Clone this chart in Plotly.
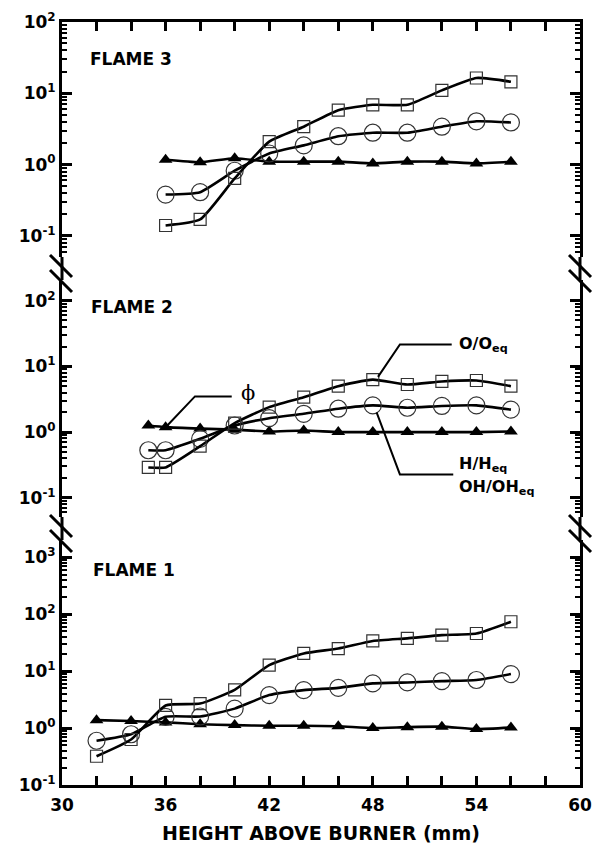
import plotly.graph_objects as go

# ---------------- data ----------------
x_flame3 = [36, 38, 40, 42, 44, 46, 48, 50, 52, 54, 56]
phi_flame3 = [1.17, 1.08, 1.23, 1.10, 1.10, 1.10, 1.04, 1.10, 1.10, 1.04, 1.10]
o_flame3 = [0.14, 0.17, 0.64, 2.1, 3.4, 5.8, 6.9, 6.9, 11.0, 16.4, 14.5]
h_flame3 = [0.38, 0.41, 0.82, 1.43, 1.86, 2.5, 2.8, 2.8, 3.4, 4.05, 3.9]

x_flame2 = [35, 36, 38, 40, 42, 44, 46, 48, 50, 52, 54, 56]
phi_flame2 = [1.26, 1.19, 1.13, 1.09, 1.02, 1.06, 1.0, 1.0, 1.0, 1.0, 1.0, 1.02]
o_flame2 = [0.29, 0.29, 0.61, 1.37, 2.4, 3.4, 5.0, 6.3, 5.3, 5.9, 6.1, 5.0]
h_flame2 = [0.53, 0.53, 0.79, 1.26, 1.63, 1.9, 2.27, 2.55, 2.35, 2.5, 2.55, 2.2]

x_flame1 = [32, 34, 36, 38, 40, 42, 44, 46, 48, 50, 52, 54, 56]
phi_flame1 = [1.38, 1.33, 1.26, 1.17, 1.13, 1.10, 1.10, 1.08, 1.0, 1.04, 1.06, 0.96, 1.02]
o_flame1 = [0.32, 0.63, 2.5, 2.7, 4.7, 12.8, 20.5, 25.0, 34.0, 37.8, 43.0, 46.0, 74.0]
h_flame1 = [0.60, 0.78, 1.58, 1.60, 2.2, 3.8, 4.65, 5.1, 6.1, 6.35, 6.7, 7.0, 8.9]

x_tick_labels = ["30", "36", "42", "48", "54", "60"]
x_tick_values = [30, 36, 42, 48, 54, 60]
y_tick_values = [0.1, 1, 10, 100, 1000]
y_tick_labels = ["10<sup>-1</sup>", "10<sup>0</sup>", "10<sup>1</sup>", "10<sup>2</sup>", "10<sup>3</sup>"]

# ---------------- layout geometry ----------------
W, H = 594, 844
ML, MR, MT, MB = 62, 14, 22, 59
PW, PH = W - ML - MR, H - MT - MB
FONT = "DejaVu Sans"


def px(xp):
    return (xp - ML) / PW


def py(yp):
    return (H - MB - yp) / PH


dom1 = [0.0, py(540)]
dom2 = [py(517), py(280)]
dom3 = [py(257), 1.0]
rng1 = [-1, 3.306]
rng2 = [-1.292, 2.315]
rng3 = [-1.296, 2.0]

fig = go.Figure()

LINE = dict(color="black", width=2.6, shape="spline", smoothing=0.5)
MCOL = "#333333"


def add_flame(x, phi, o, h, xa, ya):
    fig.add_trace(go.Scatter(x=x, y=phi, mode="lines+markers", xaxis=xa, yaxis=ya,
                             line=LINE,
                             marker=dict(symbol="triangle-up", size=12, color="black",
                                         line=dict(width=0))))
    fig.add_trace(go.Scatter(x=x, y=h, mode="lines+markers", xaxis=xa, yaxis=ya,
                             line=LINE,
                             marker=dict(symbol="circle-open", size=17, color=MCOL,
                                         line=dict(width=1.2, color=MCOL))))
    fig.add_trace(go.Scatter(x=x, y=o, mode="lines+markers", xaxis=xa, yaxis=ya,
                             line=LINE,
                             marker=dict(symbol="square-open", size=12, color=MCOL,
                                         line=dict(width=1.2, color=MCOL))))


add_flame(x_flame1, phi_flame1, o_flame1, h_flame1, "x", "y")
add_flame(x_flame2, phi_flame2, o_flame2, h_flame2, "x2", "y2")
add_flame(x_flame3, phi_flame3, o_flame3, h_flame3, "x3", "y3")

# empty traces so the minor-tick overlay axes are registered
for xa, ya in (("x", "y4"), ("x2", "y5"), ("x3", "y6")):
    fig.add_trace(go.Scatter(x=[], y=[], xaxis=xa, yaxis=ya, mode="markers",
                             hoverinfo="skip", showlegend=False))

minor_log = [k * 10 ** d for d in range(-2, 4) for k in range(2, 10)]
tickfont = dict(family=FONT, size=17, color="black", weight="bold")


def yax(dom, rng, anchor):
    return dict(domain=dom, type="log", range=rng, anchor=anchor, automargin=False,
                tickvals=y_tick_values, ticktext=y_tick_labels,
                ticks="inside", ticklen=10, tickwidth=3, tickcolor="black",
                showline=True, linewidth=3, linecolor="black", mirror="ticks",
                showgrid=False, zeroline=False, tickfont=tickfont)


def yminor(dom, rng, anchor, over):
    return dict(domain=dom, type="log", range=rng, anchor=anchor, overlaying=over,
                automargin=False,
                tickvals=minor_log, ticktext=[""] * len(minor_log),
                ticks="inside", ticklen=5, tickwidth=2, tickcolor="black",
                showline=True, linewidth=3, linecolor="black", mirror="ticks",
                showgrid=False, zeroline=False, showticklabels=False)


xminor = list(range(30, 61, 2))

fig.update_layout(
    width=W, height=H,
    margin=dict(l=ML, r=MR, t=MT, b=MB, autoexpand=False),
    plot_bgcolor="white", paper_bgcolor="white",
    showlegend=False,
    xaxis=dict(domain=[0, 1], range=[30, 60], anchor="y", automargin=False,
               tickvals=x_tick_values, ticktext=x_tick_labels,
               ticks="inside", ticklen=9, tickwidth=3, tickcolor="black",
               showline=True, linewidth=3, linecolor="black",
               showgrid=False, zeroline=False, tickfont=tickfont,
               ticklabelstandoff=3,
               minor=dict(tickvals=xminor, ticks="inside", ticklen=9, tickwidth=3,
                          tickcolor="black", showgrid=False),
               title=dict(text="HEIGHT ABOVE BURNER (mm)", standoff=13,
                          font=dict(family=FONT, size=19, color="black", weight="bold"))),
    xaxis2=dict(domain=[0, 1], range=[30, 60], anchor="y2", matches="x", automargin=False,
                showline=False, ticks="", showticklabels=False,
                showgrid=False, zeroline=False),
    xaxis3=dict(domain=[0, 1], range=[30, 60], anchor="y3", matches="x", side="top",
                automargin=False,
                tickvals=xminor, ticks="inside", ticklen=9, tickwidth=3, tickcolor="black",
                showline=True, linewidth=3, linecolor="black", showticklabels=False,
                showgrid=False, zeroline=False),
    yaxis=yax(dom1, rng1, "x"),
    yaxis2=yax(dom2, rng2, "x2"),
    yaxis3=yax(dom3, rng3, "x3"),
    yaxis4=yminor(dom1, rng1, "x", "y"),
    yaxis5=yminor(dom2, rng2, "x2", "y2"),
    yaxis6=yminor(dom3, rng3, "x3", "y3"),
)

# ---------- frame segments across the breaks and break marks ----------
shapes = []
for (a, b) in [(dom1[1], dom2[0]), (dom2[1], dom3[0])]:
    for xx in (0, 1):
        shapes.append(dict(type="line", xref="paper", yref="paper", x0=xx, x1=xx,
                           y0=a, y1=b, line=dict(color="black", width=3)))
for cy in (266, 281, 526, 541):
    for ax_x in (ML - 1, ML + PW):
        shapes.append(dict(type="line", xref="paper", yref="paper",
                           x0=px(ax_x - 11), y0=py(cy - 11),
                           x1=px(ax_x + 11), y1=py(cy + 11),
                           line=dict(color="black", width=3)))

# leader lines (flame 2; path coordinates are data values)
lead = dict(color="black", width=2)


def leader(pts):
    return "M " + " L ".join(f"{x},{10 ** ly}" for x, ly in pts)


shapes.append(dict(type="path", xref="x2", yref="y2",
                   path=leader([(36.1, 0.10), (37.7, 0.543), (39.83, 0.543)]), line=lead))
shapes.append(dict(type="path", xref="x2", yref="y2",
                   path=leader([(48.3, 0.84), (49.57, 1.335), (52.57, 1.335)]), line=lead))
shapes.append(dict(type="path", xref="x2", yref="y2",
                   path=leader([(48.22, 0.30), (49.57, -0.644), (52.66, -0.644)]), line=lead))
fig.update_layout(shapes=shapes)

lab = dict(family=FONT, size=17, color="black", weight="bold")
lab2 = dict(family=FONT, size=16, color="black", weight="bold")
annos = [
    dict(text="FLAME 3", x=px(88), y=py(59), xref="paper", yref="paper",
         xanchor="left", yanchor="middle", showarrow=False, font=lab),
    dict(text="FLAME 2", x=px(89), y=py(307), xref="paper", yref="paper",
         xanchor="left", yanchor="middle", showarrow=False, font=lab),
    dict(text="FLAME 1", x=px(91), y=py(570), xref="paper", yref="paper",
         xanchor="left", yanchor="middle", showarrow=False, font=lab),
    dict(text="ϕ", x=40.75, y=0.60, xref="x2", yref="y2", xanchor="center",
         yanchor="middle", showarrow=False,
         font=dict(family="DejaVu Serif", size=21, color="black")),
    dict(text="O/O<sub>eq</sub>", x=52.9, y=1.335, xref="x2", yref="y2",
         xanchor="left", yanchor="middle", showarrow=False, font=lab2),
    dict(text="H/H<sub>eq</sub>", x=52.9, y=-0.50, xref="x2", yref="y2",
         xanchor="left", yanchor="middle", showarrow=False, font=lab2),
    dict(text="OH/OH<sub>eq</sub>", x=52.9, y=-0.85, xref="x2", yref="y2",
         xanchor="left", yanchor="middle", showarrow=False, font=lab2),
]
fig.update_layout(annotations=annos)

fig.write_html("out.html")
